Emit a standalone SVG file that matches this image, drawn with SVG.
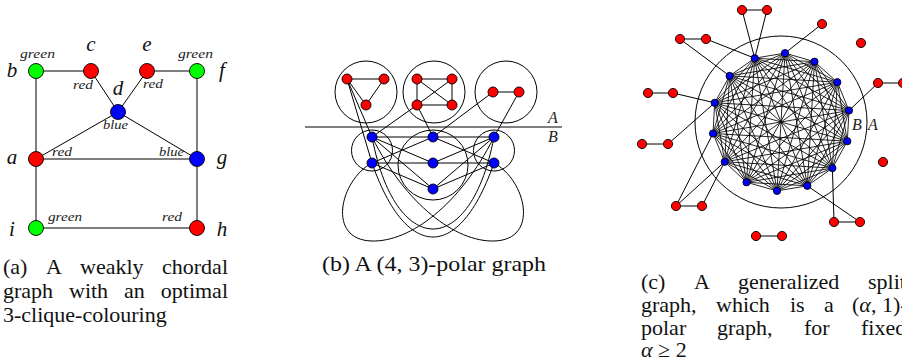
<svg xmlns="http://www.w3.org/2000/svg" width="902" height="359" viewBox="0 0 902 359">
<style>
.e{stroke:#000;stroke-width:1;fill:none}
.k{stroke:#000;stroke-width:0.85;fill:none}
.c{stroke:#000;stroke-width:1;fill:none}
.nr{fill:#f00;stroke:#000;stroke-width:0.9}
.ng{fill:#0f0;stroke:#000;stroke-width:0.9}
.nb{fill:#00f;stroke:#000;stroke-width:0.9}
.big{font-family:"Liberation Serif",serif;font-style:italic;font-size:21px;fill:#111}
.sm{font-family:"Liberation Serif",serif;font-style:italic;font-size:12px;fill:#222}
.ab{font-family:"Liberation Serif",serif;font-style:italic;font-size:16px;fill:#222}
.cap{font-family:"Liberation Serif",serif;font-size:22px;fill:#111}
</style>
<rect width="902" height="359" fill="#fff"/>

<!-- Panel (a) -->
<g id="a-edges">
<path class="e" d="M36 71H91M147 71H197M91 71L118 112M147 71L118 112M36 71V228M197 71V228M36 159L118 112L197 159M36 159H197M36 228H197"/>
</g>
<g id="a-node-b"><circle class="ng" cx="36" cy="71" r="7.5"/><text class="big" x="12" y="77" text-anchor="middle">b</text><text class="sm" x="20" y="58" textLength="35" lengthAdjust="spacingAndGlyphs">green</text></g>
<g id="a-node-c"><circle class="nr" cx="91" cy="71" r="7.5"/><text class="big" x="91" y="51" text-anchor="middle">c</text><text class="sm" x="73" y="89" textLength="20" lengthAdjust="spacingAndGlyphs">red</text></g>
<g id="a-node-e"><circle class="nr" cx="147" cy="71" r="7.5"/><text class="big" x="147" y="51" text-anchor="middle">e</text><text class="sm" x="143" y="88" textLength="20" lengthAdjust="spacingAndGlyphs">red</text></g>
<g id="a-node-f"><circle class="ng" cx="197" cy="71" r="7.5"/><text class="big" x="222" y="77" text-anchor="middle">f</text><text class="sm" x="178" y="58" textLength="35" lengthAdjust="spacingAndGlyphs">green</text></g>
<g id="a-node-d"><circle class="nb" cx="118" cy="112" r="7.5"/><text class="big" x="118" y="95" text-anchor="middle">d</text><text class="sm" x="103" y="129" textLength="25" lengthAdjust="spacingAndGlyphs">blue</text></g>
<g id="a-node-a"><circle class="nr" cx="36" cy="159" r="7.5"/><text class="big" x="12" y="164" text-anchor="middle">a</text><text class="sm" x="52" y="156" textLength="20" lengthAdjust="spacingAndGlyphs">red</text></g>
<g id="a-node-g"><circle class="nb" cx="197" cy="159" r="7.5"/><text class="big" x="222" y="164" text-anchor="middle">g</text><text class="sm" x="159" y="156" textLength="25" lengthAdjust="spacingAndGlyphs">blue</text></g>
<g id="a-node-i"><circle class="ng" cx="36" cy="228" r="7.5"/><text class="big" x="12" y="236" text-anchor="middle">i</text><text class="sm" x="48" y="221" textLength="34" lengthAdjust="spacingAndGlyphs">green</text></g>
<g id="a-node-h"><circle class="nr" cx="197" cy="228" r="7.5"/><text class="big" x="222" y="236" text-anchor="middle">h</text><text class="sm" x="162" y="221" textLength="20" lengthAdjust="spacingAndGlyphs">red</text></g>

<!-- Panel (b) -->
<g id="b-sets">
<circle class="c" cx="366" cy="92" r="31"/>
<circle class="c" cx="434" cy="92" r="31"/>
<circle class="c" cx="506" cy="92" r="31"/>
<circle class="c" cx="372" cy="150.5" r="20.5"/>
<circle class="c" cx="433" cy="165" r="35"/>
<circle class="c" cx="494" cy="150.5" r="20.5"/>
<path class="c" d="M305 127H562"/>
<text class="ab" x="548" y="123">A</text>
<text class="ab" x="548" y="142">B</text>
</g>
<g id="b-edges">
<path class="e" d="M347 79H384L366 105Z M417 79H452V105H417Z M417 79L452 105M452 79L417 105 M493 92H519"/>
<path class="e" d="M347 79L372 163M347 79L372 137M417 105L372 137M417 105L433 137M493 92L433 137M519 92L494 137"/>
<path class="e" d="M372 137H494M372 163H494M372 137L433 163M372 137L433 189M372 163L433 137M372 163L433 189M494 137L433 163M494 137L433 189M494 163L433 137M494 163L433 189"/>
<path class="e" d="M372 163C340 180 326 240 372 241C410 242 460 205 494 137"/>
<path class="e" d="M494 163C526 180 540 240 494 241C456 242 406 205 372 137"/>
<path class="e" d="M372 163C392 220 415 237 433 237C451 237 474 220 494 163"/>
<path class="e" d="M372 137C385 205 412 229 433 229C454 229 481 205 494 137"/>
</g>
<g id="b-n1"><circle class="nr" cx="347" cy="79" r="5"/></g>
<g id="b-n2"><circle class="nr" cx="384" cy="79" r="5"/></g>
<g id="b-n3"><circle class="nr" cx="366" cy="105" r="5"/></g>
<g id="b-n4"><circle class="nr" cx="417" cy="79" r="5"/></g>
<g id="b-n5"><circle class="nr" cx="452" cy="79" r="5"/></g>
<g id="b-n6"><circle class="nr" cx="417" cy="105" r="5"/></g>
<g id="b-n7"><circle class="nr" cx="452" cy="105" r="5"/></g>
<g id="b-n8"><circle class="nr" cx="493" cy="92" r="5"/></g>
<g id="b-n9"><circle class="nr" cx="519" cy="92" r="5"/></g>
<g id="b-L1"><circle class="nb" cx="372" cy="137" r="5"/></g>
<g id="b-L2"><circle class="nb" cx="372" cy="163" r="5"/></g>
<g id="b-M1"><circle class="nb" cx="433" cy="137" r="5"/></g>
<g id="b-M2"><circle class="nb" cx="433" cy="163" r="5"/></g>
<g id="b-M3"><circle class="nb" cx="433" cy="189" r="5"/></g>
<g id="b-R1"><circle class="nb" cx="494" cy="137" r="5"/></g>
<g id="b-R2"><circle class="nb" cx="494" cy="163" r="5"/></g>

<!-- Panel (c) -->
<g id="c-sets">
<circle class="c" cx="781" cy="122" r="86"/>
<text class="ab" x="852" y="130">B</text>
<text class="ab" x="868" y="130">A</text>
</g>
<g id="c-edges">
<polygon class="k" points="785,53.1 814.5,61.7 837.3,82.2 849,110.5 847.3,141.2 832.4,168.1 807.3,185.8 777,190.9 746.5,182.3 724.7,161.8 713,133.5 714.7,102.8 729.6,75.9 754.7,58.2"/>
<polygon class="k" points="785,53.1 837.3,82.2 847.3,141.2 807.3,185.8 746.5,182.3 713,133.5 729.6,75.9"/>
<polygon class="k" points="814.5,61.7 849,110.5 832.4,168.1 777,190.9 724.7,161.8 714.7,102.8 754.7,58.2"/>
<polygon class="k" points="785,53.1 849,110.5 807.3,185.8 724.7,161.8 729.6,75.9 814.5,61.7 847.3,141.2 777,190.9 713,133.5 754.7,58.2 837.3,82.2 832.4,168.1 746.5,182.3 714.7,102.8"/>
<polygon class="k" points="785,53.1 847.3,141.2 746.5,182.3 729.6,75.9 837.3,82.2 807.3,185.8 713,133.5"/>
<polygon class="k" points="814.5,61.7 832.4,168.1 724.7,161.8 754.7,58.2 849,110.5 777,190.9 714.7,102.8"/>
<polygon class="k" points="785,53.1 832.4,168.1 713,133.5 814.5,61.7 807.3,185.8 714.7,102.8 837.3,82.2 777,190.9 729.6,75.9 849,110.5 746.5,182.3 754.7,58.2 847.3,141.2 724.7,161.8"/>
<polygon class="k" points="785,53.1 807.3,185.8 729.6,75.9 847.3,141.2 713,133.5 837.3,82.2 746.5,182.3"/>
<polygon class="k" points="814.5,61.7 777,190.9 754.7,58.2 832.4,168.1 714.7,102.8 849,110.5 724.7,161.8"/>
<path class="k" d="M785 53.1L777 190.9M814.5 61.7L746.5 182.3M837.3 82.2L724.7 161.8M849 110.5L713 133.5M847.3 141.2L714.7 102.8M832.4 168.1L729.6 75.9M807.3 185.8L754.7 58.2"/>
<path class="e" d="M742 10H767M742 10L754.7 58.2M767 10L754.7 58.2M822 24L785 53.1M680 39H706M680 39L729.6 75.9M706 39L754.7 58.2M878 83H903M878 83L849 110.5M648 93H673M673 93L714.7 102.8M642 144H668M668 144L714.7 102.8M676 206H702M676 206L713 133.5M676 206L724.7 161.8M702 206L724.7 161.8M834 222H860M834 222L832.4 168.1M860 222L807.3 185.8M756 236H782"/>
</g>
<g id="c-p0"><circle class="nb" cx="785" cy="53.1" r="3.6"/></g>
<g id="c-p1"><circle class="nb" cx="814.5" cy="61.7" r="3.6"/></g>
<g id="c-p2"><circle class="nb" cx="837.3" cy="82.2" r="3.6"/></g>
<g id="c-p3"><circle class="nb" cx="849" cy="110.5" r="3.6"/></g>
<g id="c-p4"><circle class="nb" cx="847.3" cy="141.2" r="3.6"/></g>
<g id="c-p5"><circle class="nb" cx="832.4" cy="168.1" r="3.6"/></g>
<g id="c-p6"><circle class="nb" cx="807.3" cy="185.8" r="3.6"/></g>
<g id="c-p7"><circle class="nb" cx="777" cy="190.9" r="3.6"/></g>
<g id="c-p8"><circle class="nb" cx="746.5" cy="182.3" r="3.6"/></g>
<g id="c-p9"><circle class="nb" cx="724.7" cy="161.8" r="3.6"/></g>
<g id="c-p10"><circle class="nb" cx="713" cy="133.5" r="3.6"/></g>
<g id="c-p11"><circle class="nb" cx="714.7" cy="102.8" r="3.6"/></g>
<g id="c-p12"><circle class="nb" cx="729.6" cy="75.9" r="3.6"/></g>
<g id="c-p13"><circle class="nb" cx="754.7" cy="58.2" r="3.6"/></g>
<g id="c-r1"><circle class="nr" cx="742" cy="10" r="4.6"/></g>
<g id="c-r2"><circle class="nr" cx="767" cy="10" r="4.6"/></g>
<g id="c-r3"><circle class="nr" cx="822" cy="24" r="4.6"/></g>
<g id="c-r4"><circle class="nr" cx="680" cy="39" r="4.6"/></g>
<g id="c-r5"><circle class="nr" cx="706" cy="39" r="4.6"/></g>
<g id="c-r6"><circle class="nr" cx="861" cy="43" r="4.6"/></g>
<g id="c-r7"><circle class="nr" cx="878" cy="83" r="4.6"/></g>
<g id="c-r8"><circle class="nr" cx="903" cy="83" r="4.6"/></g>
<g id="c-r9"><circle class="nr" cx="648" cy="93" r="4.6"/></g>
<g id="c-r10"><circle class="nr" cx="673" cy="93" r="4.6"/></g>
<g id="c-r11"><circle class="nr" cx="642" cy="144" r="4.6"/></g>
<g id="c-r12"><circle class="nr" cx="668" cy="144" r="4.6"/></g>
<g id="c-r13"><circle class="nr" cx="883" cy="162" r="4.6"/></g>
<g id="c-r14"><circle class="nr" cx="676" cy="206" r="4.6"/></g>
<g id="c-r15"><circle class="nr" cx="702" cy="206" r="4.6"/></g>
<g id="c-r16"><circle class="nr" cx="834" cy="222" r="4.6"/></g>
<g id="c-r17"><circle class="nr" cx="860" cy="222" r="4.6"/></g>
<g id="c-r18"><circle class="nr" cx="756" cy="236" r="4.6"/></g>
<g id="c-r19"><circle class="nr" cx="782" cy="236" r="4.6"/></g>

<!-- Captions -->
<g id="caption-a" class="cap">
<text x="3" y="274">(a)</text><text x="46" y="274">A</text><text x="80" y="274">weakly</text><text x="228" y="274" text-anchor="end">chordal</text>
<text x="3" y="298">graph</text><text x="69" y="298">with</text><text x="124" y="298">an</text><text x="228" y="298" text-anchor="end">optimal</text>
<text x="3" y="322">3-clique-colouring</text>
</g>
<g id="caption-b" class="cap">
<text x="322" y="271" textLength="224" lengthAdjust="spacingAndGlyphs">(b) A (4, 3)-polar graph</text>
</g>
<g id="caption-c" class="cap">
<text x="641" y="289">(c)</text><text x="694" y="289">A</text><text x="738" y="289">generalized</text><text x="868" y="289">split</text>
<text x="641" y="312">graph,</text><text x="716" y="312">which</text><text x="790" y="312">is</text><text x="824" y="312">a</text><text x="852" y="312">(<tspan font-style="italic">α</tspan>, 1)-</text>
<text x="641" y="335">polar</text><text x="717" y="335">graph,</text><text x="804" y="335">for</text><text x="861" y="335">fixed</text>
<text x="641" y="357"><tspan font-style="italic">α</tspan> ≥ 2</text>
</g>
</svg>
